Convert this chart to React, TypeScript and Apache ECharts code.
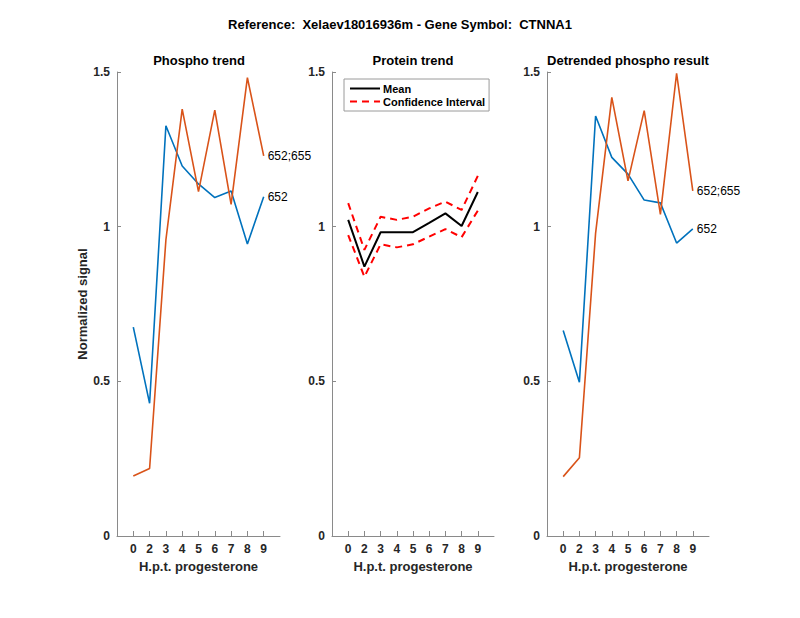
import React, { useEffect, useRef } from "react";
import * as echarts from "echarts";

const timeLabels = ["0", "2", "3", "4", "5", "6", "7", "8", "9"];
const phosphoBlue = [0.675, 0.429, 1.326, 1.196, 1.138, 1.094, 1.115, 0.944, 1.097];
const phosphoOrange = [0.194, 0.218, 0.957, 1.38, 1.113, 1.377, 1.072, 1.482, 1.229];
const proteinMean = [1.022, 0.871, 0.982, 0.982, 0.982, 1.012, 1.043, 1.002, 1.112];
const proteinUpper = [1.076, 0.925, 1.032, 1.022, 1.032, 1.059, 1.081, 1.054, 1.164];
const proteinLower = [0.973, 0.838, 0.943, 0.933, 0.943, 0.968, 0.992, 0.966, 1.052];
const detrendBlue = [0.664, 0.497, 1.358, 1.224, 1.17, 1.086, 1.077, 0.947, 0.993];
const detrendOrange = [0.192, 0.253, 0.979, 1.418, 1.148, 1.375, 1.04, 1.496, 1.116];
const blueLabel = "652";
const orangeLabel = "652;655";
const yTicks = [0, 0.5, 1, 1.5];

const FONT = "'Liberation Sans', Arial, Helvetica, sans-serif";
const AX = "#262626";
const AXLINE = "#8a8a8a";
const BLUE = "#0072BD";
const ORANGE = "#D95319";

const toPts = (arr: number[]) => arr.map((v, i) => [i + 1, v]);
const tickPos = timeLabels.map((_, i) => i + 1);

const grids = [
  { left: 117, width: 163 },
  { left: 332, width: 162 },
  { left: 547, width: 162 },
];

export default function App() {
  const ref = useRef<HTMLDivElement>(null);
  useEffect(() => {
    if (!ref.current) return;
    const chart = echarts.init(ref.current, null, { renderer: "svg" });
    const xAxes = grids.map((g, i) => ({
      type: "value",
      gridIndex: i,
      min: 0,
      max: 10,
      interval: 1,
      name: "H.p.t. progesterone",
      nameLocation: "middle",
      nameGap: 22,
      nameTextStyle: { fontFamily: FONT, fontWeight: "bold", fontSize: 13, color: AX },
      splitLine: { show: false },
      axisLine: { show: true, lineStyle: { color: AXLINE, width: 1 } },
      axisTick: { show: true, inside: true, length: 5, customValues: tickPos, lineStyle: { color: AXLINE } },
      axisLabel: {
        customValues: tickPos,
        margin: 7,
        fontFamily: FONT,
        fontWeight: "bold",
        fontSize: 12,
        color: AX,
        formatter: (v: number) => timeLabels[Math.round(v) - 1] ?? "",
      },
    }));
    const yAxes = grids.map((g, i) => ({
      type: "value",
      gridIndex: i,
      min: 0,
      max: 1.5,
      interval: 0.5,
      name: i === 0 ? "Normalized signal" : "",
      nameLocation: "middle",
      nameGap: 24,
      nameTextStyle: { fontFamily: FONT, fontWeight: "bold", fontSize: 13, color: AX },
      splitLine: { show: false },
      axisLine: { show: true, lineStyle: { color: AXLINE, width: 1 } },
      axisTick: { show: true, inside: true, length: 4, lineStyle: { color: AXLINE } },
      axisLabel: {
        margin: 7,
        fontFamily: FONT,
        fontWeight: "bold",
        fontSize: 12,
        color: AX,
        customValues: yTicks,
      },
    }));
    const endLbl = (text: string) => ({
      show: true,
      formatter: text,
      distance: 4,
      fontFamily: FONT,
      fontSize: 12,
      color: "#000",
    });
    const phLine = (data: number[], color: string, gi: number, label: string) => ({
      type: "line",
      xAxisIndex: gi,
      yAxisIndex: gi,
      data: toPts(data),
      symbol: "none",
      lineStyle: { color, width: 1.6 },
      itemStyle: { color },
      endLabel: endLbl(label),
      z: color === ORANGE ? 3 : 2,
    });
    const option: any = {
      animation: false,
      backgroundColor: "#fff",
      grid: grids.map((g) => ({ left: g.left, width: g.width, top: 72, height: 464 })),
      xAxis: xAxes,
      yAxis: yAxes,
      legend: {
        show: true,
        data: ["Mean", "Confidence Interval"],
        orient: "vertical",
        left: 344,
        top: 79,
        itemWidth: 30,
        itemHeight: 12,
        itemGap: 2,
        padding: [4, 4, 4, 5],
        borderColor: "#9a9a9a",
        borderWidth: 1,
        backgroundColor: "#fff",
        selectedMode: false,
        itemStyle: { opacity: 0 },
        textStyle: { fontFamily: FONT, fontWeight: "bold", fontSize: 11, color: "#000", padding: [0, 0, 0, -2] },
      },
      graphic: [
        { type: "text", x: 400, y: 24, style: { text: "Reference:  Xelaev18016936m - Gene Symbol:  CTNNA1", align: "center", verticalAlign: "middle", fontFamily: FONT, fontWeight: "bold", fontSize: 13, fill: "#000" } },
        { type: "text", x: 199, y: 60, style: { text: "Phospho trend", align: "center", verticalAlign: "middle", fontFamily: FONT, fontWeight: "bold", fontSize: 13, fill: "#000" } },
        { type: "text", x: 413, y: 60, style: { text: "Protein trend", align: "center", verticalAlign: "middle", fontFamily: FONT, fontWeight: "bold", fontSize: 13, fill: "#000" } },
        { type: "text", x: 628, y: 60, style: { text: "Detrended phospho result", align: "center", verticalAlign: "middle", fontFamily: FONT, fontWeight: "bold", fontSize: 13, fill: "#000" } },
      ],
      series: [
        phLine(phosphoBlue, BLUE, 0, blueLabel),
        phLine(phosphoOrange, ORANGE, 0, orangeLabel),
        {
          name: "Mean",
          type: "line",
          xAxisIndex: 1,
          yAxisIndex: 1,
          data: toPts(proteinMean),
          symbol: "none",
          lineStyle: { color: "#000", width: 2 },
          itemStyle: { color: "#000" },
          z: 3,
        },
        {
          name: "Confidence Interval",
          type: "line",
          xAxisIndex: 1,
          yAxisIndex: 1,
          data: toPts(proteinUpper),
          symbol: "none",
          lineStyle: { color: "#FF0000", width: 2, type: [7, 5] },
          itemStyle: { color: "#FF0000" },
        },
        {
          name: "Confidence Interval",
          type: "line",
          xAxisIndex: 1,
          yAxisIndex: 1,
          data: toPts(proteinLower),
          symbol: "none",
          lineStyle: { color: "#FF0000", width: 2, type: [7, 5] },
          itemStyle: { color: "#FF0000" },
        },
        phLine(detrendBlue, BLUE, 2, blueLabel),
        phLine(detrendOrange, ORANGE, 2, orangeLabel),
      ],
    };
    chart.setOption(option);
    return () => chart.dispose();
  }, []);
  return (
    <div
      ref={ref}
      style={{ position: "fixed", left: 0, top: 0, width: 800, height: 618, background: "#fff" }}
    />
  );
}
